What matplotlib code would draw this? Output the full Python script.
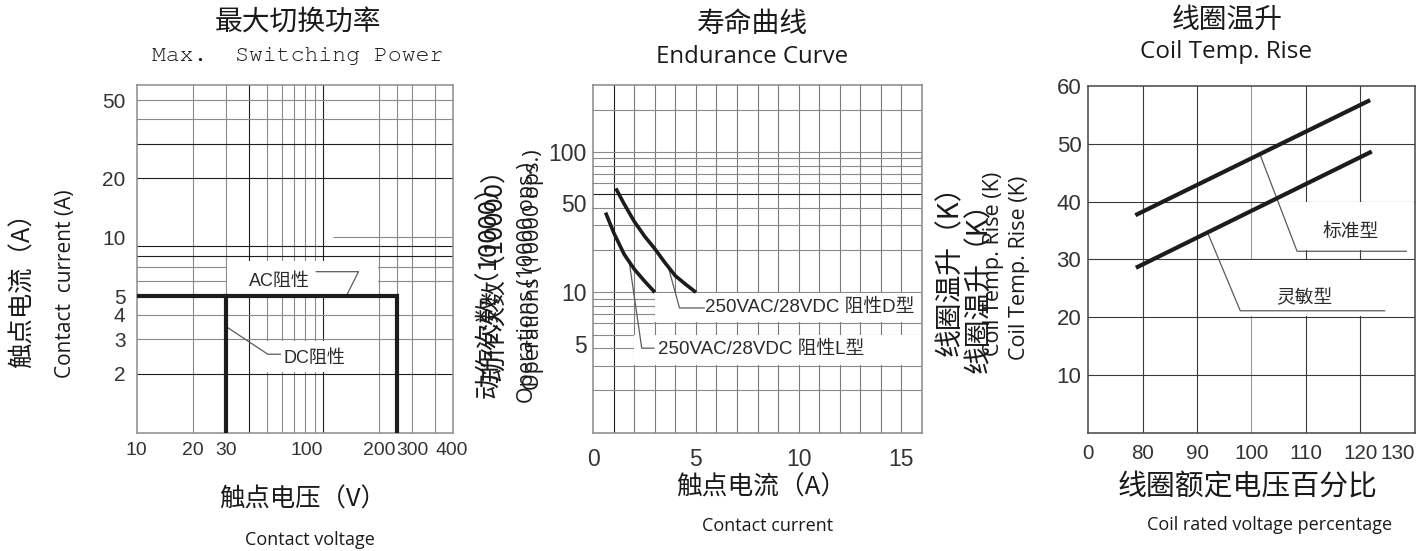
import matplotlib
matplotlib.use('Agg')
import matplotlib.pyplot as plt
from matplotlib.patches import Rectangle
from matplotlib import font_manager

W, H = 1428, 551

# ---------------- data ----------------
# Max. switching power (log-log)
SW_X_TICKS = [10, 20, 30, 100, 200, 300, 400]
SW_Y_TICKS = [2, 3, 4, 5, 10, 20, 50]
SW_VGRID = [20, 30, 40, 50, 60, 70, 80, 90, 100, 200, 250, 300, 400]
SW_VGRID_DARK = [40, 100]
SW_HGRID = [2, 3, 4, 6, 7, 8, 9, 20, 30, 40, 50]
SW_HGRID_DARK = [2, 8, 9, 20, 30]
AC_VOLT = [10, 250, 250]
AC_CURR = [5, 5, 1]
DC_VOLT = [30, 30]
DC_CURR = [5, 1]

# Endurance curve (x linear, y log)
END_X_TICKS = [0, 5, 10, 15]
END_Y_TICKS = [5, 10, 50, 100]
END_VGRID = list(range(1, 16))
END_HGRID = [2, 3, 4, 5, 6, 7, 8, 9, 10, 20, 30, 40, 50, 60, 70, 80, 90, 100, 200]
D_CURRENT = [1.1, 1.5, 2.0, 2.5, 3.0, 3.5, 4.0, 4.5, 5.0]
D_OPS = [55, 42.7, 31.9, 25.1, 20.4, 16.2, 13.1, 11.4, 10]
L_CURRENT = [0.6, 1.0, 1.5, 2.0, 2.5, 3.0]
L_OPS = [37, 26.5, 18.7, 14.6, 12.0, 10]

# Coil temperature rise
RISE_X_TICKS = [70, 80, 90, 100, 110, 120, 130]
RISE_X_LABELS = ['0', '80', '90', '100', '110', '120', '130']
RISE_Y_TICKS = [10, 20, 30, 40, 50, 60]
RISE_VGRID = [80, 90, 100, 110, 120]
RISE_HGRID = [10, 20, 30, 40, 50]
STD_VOLT = [79.0, 121.5]
STD_TEMP = [37.8, 57.4]
SENS_VOLT = [79.1, 121.8]
SENS_TEMP = [28.7, 48.5]

# ---------------- fonts ----------------
names = {f.name for f in font_manager.fontManager.ttflist}


def pick(cands):
    return [c for c in cands if c in names] or [cands[-1]]


HAS_NARROW = 'Liberation Sans Narrow' in names
NARROW = ['Liberation Sans Narrow'] if HAS_NARROW else ['Liberation Sans']
NARROW_SCALE = 1.0 if HAS_NARROW else 0.93
CJK = ['Noto Sans CJK SC', 'DejaVu Sans']
CJK_TITLE = pick(['Noto Serif CJK SC', 'Noto Sans CJK SC']) + ['DejaVu Sans']
MONO = pick(['Nimbus Mono PS', 'FreeMono', 'Courier New', 'Liberation Mono'])
MIX = ['Liberation Sans', 'Noto Sans CJK SC', 'DejaVu Sans']
OPEN = ['Open Sans', 'DejaVu Sans']
TXT = '#1a1a1a'
TICKC = '#333333'
GRAY = '#8a8a8a'
DARK = '#1e1e1e'
LEAD = '#5a5a5a'

fig = plt.figure(figsize=(W / 100, H / 100), dpi=100)


def rect(l, t, r, b):
    return [l / W, 1 - b / H, (r - l) / W, (b - t) / H]


def ftext(x, y, s, **kw):
    kw.setdefault('ha', 'center')
    kw.setdefault('va', 'center')
    kw.setdefault('color', TXT)
    fig.text(x / W, 1 - y / H, s, **kw)


def style_axes(ax, spine_color):
    for sp in ax.spines.values():
        sp.set_color(spine_color)
        sp.set_linewidth(1.1)
    ax.tick_params(which='both', length=0)
    ax.minorticks_off()


# ================= Left: Max switching power =================
ax1 = fig.add_axes(rect(136.7, 85, 453.3, 432.7))
ax1.set_xscale('log')
ax1.set_yscale('log')
ax1.set_xlim(10, 500)
ax1.set_ylim(1, 60)
style_axes(ax1, '#8c8c8c')
for v in SW_VGRID:
    ax1.axvline(v, color=DARK if v in SW_VGRID_DARK else GRAY, lw=0.8, zorder=1)
for h in SW_HGRID:
    ax1.axhline(h, color=DARK if h in SW_HGRID_DARK else GRAY, lw=0.8, zorder=1)
ax1.hlines(10, 113, 500, color=GRAY, lw=0.8, zorder=1)
# label backgrounds
ax1.add_patch(Rectangle((30.6, 5.12), 198 - 30.6, 7.55 - 5.12, fc='white', ec='none', zorder=2))
ax1.add_patch(Rectangle((45, 2.04), 160 - 45, 2.95 - 2.04, fc='white', ec='none', zorder=2))
ax1.plot(AC_VOLT, AC_CURR, color='#1c1c1c', lw=3.0, solid_joinstyle='miter', zorder=4)
ax1.plot(DC_VOLT, DC_CURR, color='#1c1c1c', lw=3.0, zorder=4)
ax1.plot([92, 155, 134], [6.66, 6.66, 5.05], color=LEAD, lw=0.9, zorder=3)
ax1.plot([30.3, 50.5, 59.0], [3.48, 2.52, 2.52], color=LEAD, lw=0.9, zorder=3)
ax1.text(58, 5.95, 'AC阻性', family=MIX, fontsize=13, color='#2a2a2a',
         ha='center', va='center', zorder=5)
ax1.text(61, 2.40, 'DC阻性', family=MIX, fontsize=13, color='#2a2a2a',
         ha='left', va='center', zorder=5)
ax1.set_xticks(SW_X_TICKS)
ax1.set_xticklabels([str(t) for t in SW_X_TICKS])
ax1.set_yticks(SW_Y_TICKS)
ax1.set_yticklabels([str(t) for t in SW_Y_TICKS])
ax1.tick_params(axis='x', pad=7)
ax1.tick_params(axis='y', pad=8)
for lbl in ax1.get_xticklabels():
    lbl.set_family(NARROW)
    lbl.set_fontsize(15 * NARROW_SCALE)
    lbl.set_color(TICKC)
    if lbl.get_text() == '100':
        lbl.set_ha('right')
    if lbl.get_text() == '400':
        lbl.set_ha('left')
for lbl in ax1.get_yticklabels():
    lbl.set_family(['Liberation Sans'])
    lbl.set_fontsize(15)
    lbl.set_color(TICKC)

# ================= Middle: Endurance curve =================
ax2 = fig.add_axes(rect(593.3, 85, 921.7, 432.7))
ax2.set_yscale('log')
ax2.set_xlim(0, 16)
ax2.set_ylim(1, 300)
style_axes(ax2, '#888888')
for v in END_VGRID:
    ax2.axvline(v, color=DARK if v == 1 else '#7a7a7a', lw=0.8, zorder=1)
for h in END_HGRID:
    ax2.axhline(h, color=DARK if h == 50 else GRAY, lw=0.8, zorder=1)
ax2.add_patch(Rectangle((3.0, 6.1), 13.0, 9.9 - 6.1, fc='white', ec='none', zorder=2))
ax2.add_patch(Rectangle((2.0, 3.05), 14.0, 4.95 - 3.05, fc='white', ec='none', zorder=2))
ax2.plot(D_CURRENT, D_OPS, color='#1c1c1c', lw=2.6, zorder=4, solid_capstyle='butt')
ax2.plot(L_CURRENT, L_OPS, color='#1c1c1c', lw=2.6, zorder=4, solid_capstyle='butt')
ax2.plot([3.65, 4.2, 5.4], [15.2, 7.74, 7.74], color=LEAD, lw=0.9, zorder=3)
ax2.plot([1.75, 2.36, 2.95], [16.5, 4.0, 4.0], color=LEAD, lw=0.9, zorder=3)
ax2.text(5.45, 7.8, '250VAC/28VDC 阻性D型', family=MIX, fontsize=13.5,
         color='#2a2a2a', ha='left', va='center', zorder=5)
ax2.text(3.17, 3.95, '250VAC/28VDC 阻性L型', family=MIX, fontsize=13.5,
         color='#2a2a2a', ha='left', va='center', zorder=5)
ax2.set_xticks(END_X_TICKS)
ax2.set_xticklabels([str(t) for t in END_X_TICKS])
ax2.set_yticks(END_Y_TICKS)
ax2.set_yticklabels([str(t) for t in END_Y_TICKS])
ax2.tick_params(axis='x', pad=11)
ax2.tick_params(axis='y', pad=5)
for lbl in ax2.get_xticklabels() + ax2.get_yticklabels():
    lbl.set_family(['Liberation Sans'])
    lbl.set_fontsize(16.5)
    lbl.set_color(TICKC)
for lbl in ax2.get_yticklabels():
    if lbl.get_text() in ('50', '5'):
        lbl.set_va('top')

# ================= Right: Coil temperature rise =================
ax3 = fig.add_axes(rect(1088.3, 86, 1414.5, 432.7))
ax3.set_xlim(70, 130)
ax3.set_ylim(0, 60)
style_axes(ax3, '#444444')
for v in RISE_VGRID:
    ax3.axvline(v, color='#9a9a9a' if v == 100 else '#3a3a3a', lw=0.8, zorder=1)
for h in RISE_HGRID:
    ax3.axhline(h, color='#3a3a3a', lw=0.8, zorder=1)
ax3.add_patch(Rectangle((103.5, 31.6), 26.4, 39.85 - 31.6, fc='white', ec='none', zorder=2))
ax3.add_patch(Rectangle((96.0, 20.15), 33.9, 29.85 - 20.15, fc='white', ec='none', zorder=2))
ax3.plot(STD_VOLT, STD_TEMP, color='#1c1c1c', lw=3.0, zorder=4)
ax3.plot(SENS_VOLT, SENS_TEMP, color='#1c1c1c', lw=3.0, zorder=4)
ax3.plot([101.6, 108.4, 128.5], [48.1, 31.4, 31.4], color=LEAD, lw=0.9, zorder=3)
ax3.plot([92.0, 97.95, 124.5], [34.5, 21.1, 21.1], color=LEAD, lw=0.9, zorder=3)
ax3.text(118.2, 34.9, '标准型', family=CJK, fontsize=13.5, color='#2a2a2a',
         ha='center', va='center', zorder=5)
ax3.text(109.8, 23.4, '灵敏型', family=CJK, fontsize=13.5, color='#2a2a2a',
         ha='center', va='center', zorder=5)
ax3.set_xticks(RISE_X_TICKS)
ax3.set_xticklabels(RISE_X_LABELS)
ax3.set_yticks(RISE_Y_TICKS)
ax3.set_yticklabels([str(t) for t in RISE_Y_TICKS])
ax3.tick_params(axis='x', pad=8)
ax3.tick_params(axis='y', pad=5)
for lbl in ax3.get_xticklabels():
    lbl.set_family(NARROW)
    lbl.set_fontsize(16 * NARROW_SCALE)
    lbl.set_color(TICKC)
    if lbl.get_text() == '130':
        lbl.set_ha('right')
for lbl in ax3.get_yticklabels():
    lbl.set_family(['Liberation Sans'])
    lbl.set_fontsize(16)
    lbl.set_color(TICKC)

# ================= Titles & axis labels =================
# left
ftext(297.5, 23, '最大切换功率', family=CJK_TITLE, fontsize=20)
ftext(297.5, 56, 'Max.  Switching Power', family=MONO, fontsize=16.7)
ftext(303, 500, '触点电压（V）', family=CJK_TITLE, fontsize=18.3)
ftext(310, 540, 'Contact voltage', family=OPEN, fontsize=13)
ftext(23, 284, '触点电流（A）', family=CJK_TITLE, fontsize=18.3, rotation=90)
ftext(65, 284, 'Contact  current (A)', family=OPEN, fontsize=15, rotation=90)

# middle
ftext(752.5, 24, '寿命曲线', family=CJK_TITLE, fontsize=20)
ftext(752.5, 57, 'Endurance Curve', family=OPEN, fontsize=17.3)
ftext(761.5, 488, '触点电流（A）', family=CJK_TITLE, fontsize=18.5)
ftext(767.5, 526, 'Contact current', family=OPEN, fontsize=13)
ftext(489, 285, '动作次数（10000）', family=CJK_TITLE, fontsize=18.5, rotation=90)
ftext(495, 268, '动作次数（10000）', family=CJK_TITLE, fontsize=18.5, rotation=90)
ftext(527, 283, 'Operations (10000 ops.)', family=OPEN, fontsize=15.5, rotation=90)
ftext(533, 270, 'Operations (10000 ops.)', family=OPEN, fontsize=15.5, rotation=90)

# right
ftext(1226.7, 20, '线圈温升', family=CJK_TITLE, fontsize=20)
ftext(1226.5, 52, 'Coil Temp. Rise', family=OPEN, fontsize=17.5)
ftext(1248, 487, '线圈额定电压百分比', family=CJK_TITLE, fontsize=20.8)
ftext(1269.5, 525, 'Coil rated voltage percentage', family=OPEN, fontsize=13)
ftext(950, 264, '线圈温升（K）', family=CJK_TITLE, fontsize=20, rotation=90)
ftext(979, 281, '线圈温升（K）', family=CJK_TITLE, fontsize=20, rotation=90)
ftext(994, 264, 'Coil Temp. Rise (K)', family=OPEN, fontsize=15.5, rotation=90)
ftext(1019, 268, 'Coil Temp. Rise (K)', family=OPEN, fontsize=15.5, rotation=90)

fig.savefig('out.png', dpi=100, facecolor='white')
